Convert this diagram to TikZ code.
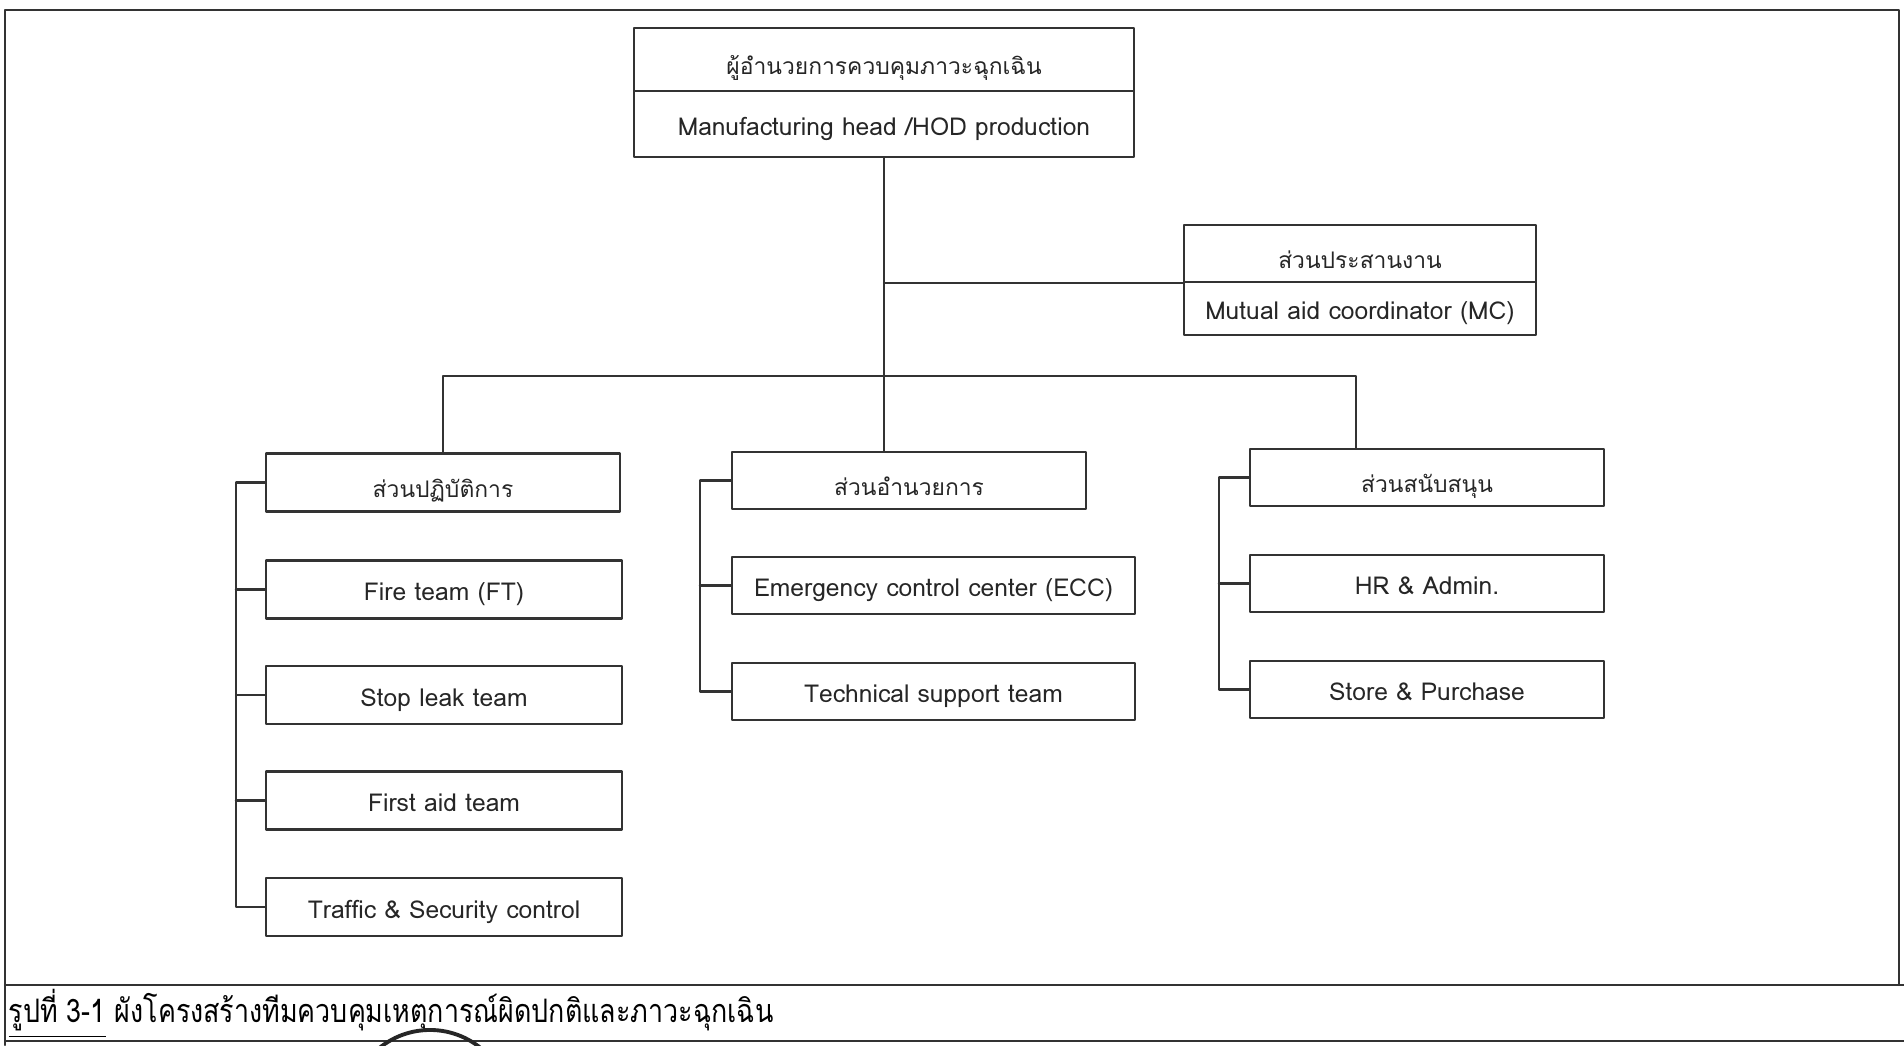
\documentclass[tikz,border=0pt]{standalone}
\usepackage{fontspec}
\setmainfont[Script=Thai]{Loma}
\newfontfamily\capfont[Script=Thai, FakeStretch=0.83]{Loma}
\newcommand{\thsz}{\fontsize{6.5}{8}\selectfont}
\begin{document}
\begin{tikzpicture}[x=0.01cm, y=-0.01cm, font=\fontsize{7}{9}\selectfont, line join=round, line cap=round,
		box/.style={draw=black!80, line width=0.6pt, minimum width=3.54cm, minimum height=0.58cm, inner sep=0pt, text=black!85, text height=1.7ex, text depth=.45ex},
		thbox/.style={box, font=\thsz, text height=2.1ex},
		wire/.style={draw=black!80, line width=0.6pt}]
	\useasboundingbox (0,0) rectangle (1904,1045);
	% frame
	\draw[wire] (1899,985) -- (1899,10) -- (5,10) -- (5,1045);
	\draw[wire] (5,985) -- (1904,985);
	\draw[wire] (5,1041) -- (1904,1041);
	% head
	\node[thbox, minimum width=5cm, minimum height=0.63cm] (headth) at (884,59.5) {ผู้อำนวยการควบคุมภาวะฉุกเฉิน};
	\node[box, minimum width=5cm, minimum height=0.66cm] (head) at (884,124) {Manufacturing head /HOD production};
	\node[thbox, minimum width=3.52cm, minimum height=0.57cm] (mcth) at (1360,253.5) {ส่วนประสานงาน};
	\node[box, minimum width=3.52cm, minimum height=0.53cm] (mc) at (1360,308.5) {Mutual aid coordinator (MC)};
	% operations
	\node[thbox] (ops) at (443,482.5) {ส่วนปฏิบัติการ};
	\node[box, minimum width=3.56cm] (ft) at (444,589.5) {Fire team (FT)};
	\node[box, minimum width=3.56cm] (leak) at (444,695) {Stop leak team};
	\node[box, minimum width=3.56cm] (aid) at (444,800.5) {First aid team};
	\node[box, minimum width=3.56cm] (traffic) at (444,907) {Traffic \& Security control};
	% direction
	\node[thbox, minimum height=0.57cm] (dir) at (909,480.5) {ส่วนอำนวยการ};
	\node[box, minimum width=4.03cm, minimum height=0.57cm] (ecc) at (933.5,585.5) {Emergency control center (ECC)};
	\node[box, minimum width=4.03cm, minimum height=0.57cm] (tech) at (933.5,691.5) {Technical support team};
	% support
	\node[thbox, minimum height=0.57cm] (sup) at (1427,477.5) {ส่วนสนับสนุน};
	\node[box, minimum height=0.57cm] (hr) at (1427,583.5) {HR \& Admin.};
	\node[box, minimum height=0.57cm] (store) at (1427,689.5) {Store \& Purchase};
	% links
	\draw[wire] (head.south) -- (head.south |- dir.north);
	\draw[wire] (head.south |- mcth.south west) -- (mcth.south west);
	\coordinate (drop) at (1356,376);
	\draw[wire] (ops.north) |- (drop) -- (drop |- sup.north);
	\draw[wire] (ops.west) -- ++(-29,0) |- (traffic.west);
	\foreach \n in {ft,leak,aid}
		\draw[wire] (\n.west) -- ++(-29,0);
	\draw[wire] (dir.west) -- ++(-31,0) |- (tech.west);
	\draw[wire] (ecc.west) -- ++(-31,0);
	\draw[wire] (sup.west) -- ++(-30,0) |- (store.west);
	\draw[wire] (hr.west) -- ++(-30,0);
	% caption
	\node[anchor=west, inner sep=0pt, font=\capfont\fontsize{9.2}{11}\selectfont] (cap) at (8,1014) {\underline{รูปที่ 3-1} ผังโครงสร้างทีมควบคุมเหตุการณ์ผิดปกติและภาวะฉุกเฉิน};
	\begin{scope}
		\clip (0,986) rectangle (1904,1045);
		\draw[line width=1.1pt, black!85] (430,1110) circle [radius=0.8cm];
	\end{scope}
\end{tikzpicture}
\end{document}
